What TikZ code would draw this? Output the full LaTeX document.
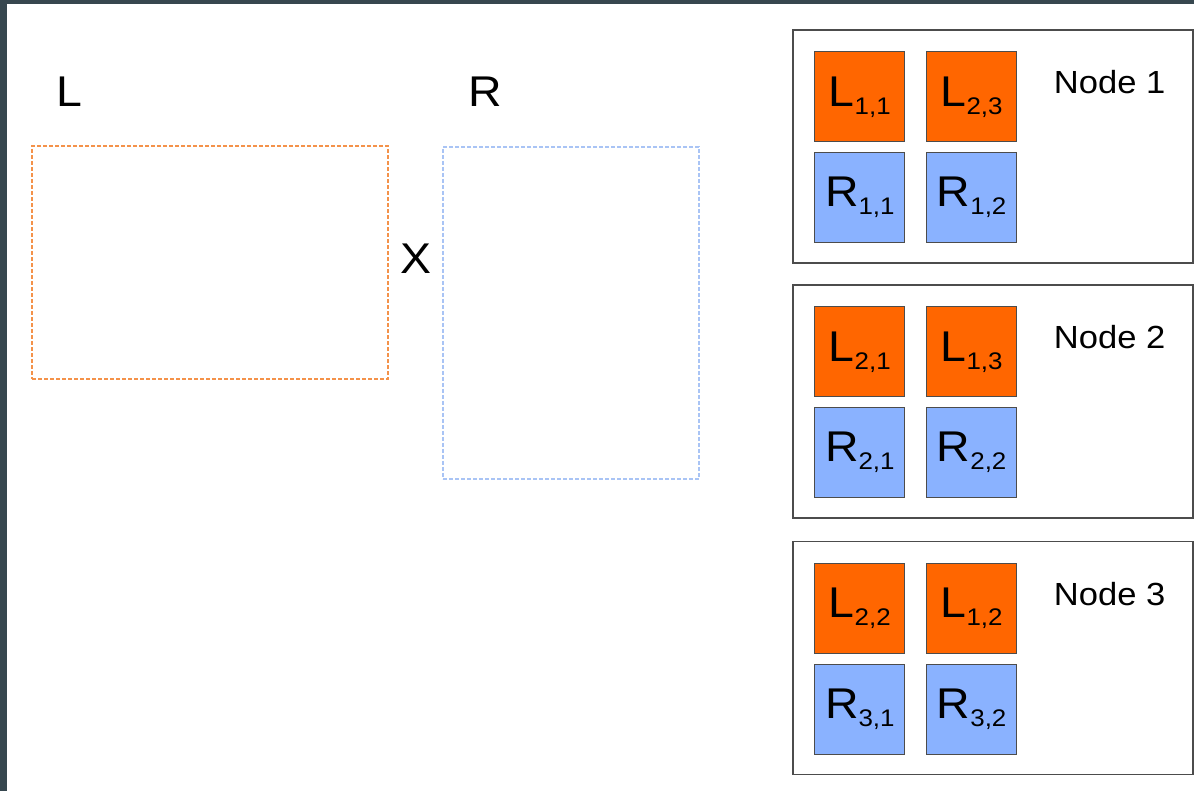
\documentclass[tikz,border=0pt]{standalone}
\usepackage{fontspec}
\setmainfont[FakeStretch=1.08]{Liberation Sans}
\usetikzlibrary{positioning}

\definecolor{slabL}{HTML}{FF6600}
\definecolor{slabR}{HTML}{8AB2FF}
\definecolor{lineL}{HTML}{F4924A}
\definecolor{lineR}{HTML}{A9C4F5}
\definecolor{slate}{HTML}{37474F}

\newcommand{\subidx}[1]{\raisebox{-8pt}{\fontsize{24}{24}\selectfont #1}}

\begin{document}
\begin{tikzpicture}[x=1pt, y=-1pt, node distance=10pt]
        \tikzset{lpanel/.style={draw=lineL, line width=1.3pt, dash pattern=on 4pt off 2pt, inner sep=0pt}}
        \tikzset{rpanel/.style={lpanel, draw=lineR}}
        \tikzset{lblock/.style={draw=black!70, line width=0.8pt, fill=slabL, minimum width=90pt, minimum height=90pt, inner sep=0pt, font=\fontsize{43}{43}\selectfont}}
        \tikzset{rblock/.style={lblock, fill=slabR}}
        \tikzset{machine/.style={draw=black!70, line width=1.2pt, minimum width=400pt, minimum height=233pt, inner sep=0pt}}
        \tikzset{big/.style={inner sep=0pt, font=\fontsize{43}{43}\selectfont}}
        \fill[slate] (0,0) rectangle (1194,791);
        \fill[white] (7,4) rectangle (1194,791);
        \useasboundingbox (0,0) rectangle (1194,791);
        \node[lpanel, minimum width=356pt, minimum height=233pt] (lmat) at (210,262.5) {};
        \node[rpanel, minimum width=256pt, minimum height=332pt] (rmat) at (571,313) {};
        \node[big] (ltxt) at (69.5,91.5) {L};
        \node[big] (rtxt) at (485,91.5) {R};
        \node[big] (times) at (416,258.5) {X};
        \foreach \k/\yc/\a/\b/\c/\d in {1/146.5/{1,1}/{2,3}/{1,1}/{1,2}, 2/401.5/{2,1}/{1,3}/{2,1}/{2,2}, 3/658/{2,2}/{1,2}/{3,1}/{3,2}} {
            \node[machine] (m\k) at (993,\yc) {};
            \node[lblock, below right=22pt and 22pt of m\k.north west] (la\k) {L\subidx{\a}};
            \node[lblock, right=21pt of la\k] (lb\k) {L\subidx{\b}};
            \node[rblock, below=10pt of la\k] (ra\k) {R\subidx{\c}};
            \node[rblock, below=10pt of lb\k] (rb\k) {R\subidx{\d}};
            \node[inner sep=0pt, font=\fontsize{32}{32}\selectfont, below left=41pt and 28pt of m\k.north east] (name\k) {Node \k};
        }
    \end{tikzpicture}
\end{document}
